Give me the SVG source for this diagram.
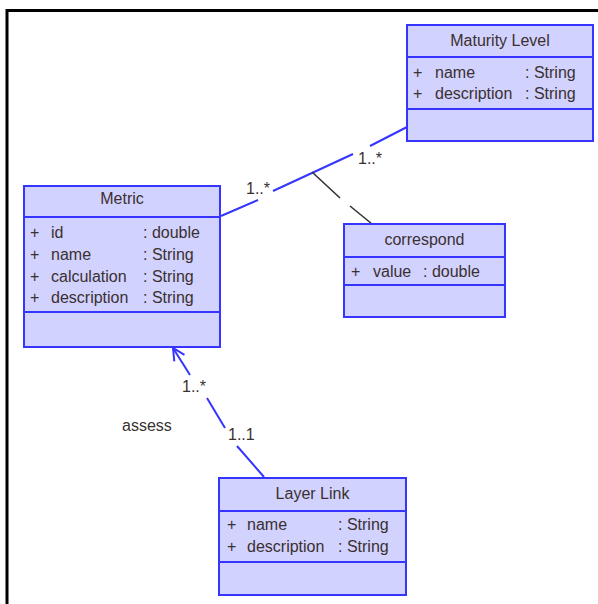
<svg xmlns="http://www.w3.org/2000/svg" width="598" height="604" viewBox="0 0 598 604">
<style>
.box{fill:#d2d2ff;stroke:#3535ff;stroke-width:2}
.div{stroke:#3535ff;stroke-width:2}
text{font-family:"Liberation Sans",Arial,sans-serif;font-size:16px;fill:#3a3030}
.t{text-anchor:middle}
.assoc{stroke:#3535ff;stroke-width:2;fill:none}
.dash{stroke:#333;stroke-width:1.6;fill:none}
</style>
<defs>
<marker id="open" markerWidth="14" markerHeight="14" refX="13" refY="7" orient="auto" markerUnits="userSpaceOnUse">
<path d="M1,1 L13,7 L1,13" fill="none" stroke="#3535ff" stroke-width="2"/>
</marker>
</defs>
<rect width="598" height="604" fill="#fff"/>
<path d="M7,604 V10.5 H598" fill="none" stroke="#000" stroke-width="3"/>

<g id="connectors">
<line class="assoc" x1="221" y1="216" x2="258" y2="200"/>
<line class="assoc" x1="273" y1="191" x2="353" y2="154"/>
<line class="assoc" x1="370" y1="146" x2="407" y2="127"/>
<line class="dash" x1="312" y1="172" x2="340" y2="198"/>
<line class="dash" x1="350" y1="206" x2="372" y2="224"/>
<line class="assoc" x1="190" y1="375" x2="173" y2="348" marker-end="url(#open)"/>
<line class="assoc" x1="207" y1="398" x2="225" y2="428"/>
<line class="assoc" x1="237" y1="446" x2="264" y2="477"/>
<text x="246" y="194">1..*</text>
<text x="358" y="164">1..*</text>
<text x="182" y="392">1..*</text>
<text x="228" y="440">1..1</text>
<text x="122" y="431">assess</text>
</g>

<g id="maturity-level">
<rect class="box" x="407" y="25" width="186" height="116"/>
<line class="div" x1="407" y1="57" x2="593" y2="57"/>
<line class="div" x1="407" y1="109" x2="593" y2="109"/>
<text class="t" x="500" y="46">Maturity Level</text>
<text x="413" y="78">+</text><text x="435" y="78">name</text><text x="525" y="78">: String</text>
<text x="413" y="99">+</text><text x="435" y="99">description</text><text x="525" y="99">: String</text>
</g>

<g id="metric">
<rect class="box" x="24" y="186" width="196" height="161"/>
<line class="div" x1="24" y1="217" x2="220" y2="217"/>
<line class="div" x1="24" y1="312" x2="220" y2="312"/>
<text class="t" x="122" y="204">Metric</text>
<text x="30" y="238">+</text><text x="51" y="238">id</text><text x="143" y="238">: double</text>
<text x="30" y="260">+</text><text x="51" y="260">name</text><text x="143" y="260">: String</text>
<text x="30" y="282">+</text><text x="51" y="282">calculation</text><text x="143" y="282">: String</text>
<text x="30" y="303">+</text><text x="51" y="303">description</text><text x="143" y="303">: String</text>
</g>

<g id="correspond">
<rect class="box" x="344" y="224" width="161" height="93"/>
<line class="div" x1="344" y1="257" x2="505" y2="257"/>
<line class="div" x1="344" y1="285" x2="505" y2="285"/>
<text class="t" x="424.5" y="245">correspond</text>
<text x="351" y="277">+</text><text x="373" y="277">value</text><text x="423" y="277">: double</text>
</g>

<g id="layer-link">
<rect class="box" x="219" y="478" width="187" height="117"/>
<line class="div" x1="219" y1="511" x2="406" y2="511"/>
<line class="div" x1="219" y1="562" x2="406" y2="562"/>
<text class="t" x="312.5" y="499">Layer Link</text>
<text x="227" y="530">+</text><text x="247" y="530">name</text><text x="338" y="530">: String</text>
<text x="227" y="552">+</text><text x="247" y="552">description</text><text x="338" y="552">: String</text>
</g>
</svg>
